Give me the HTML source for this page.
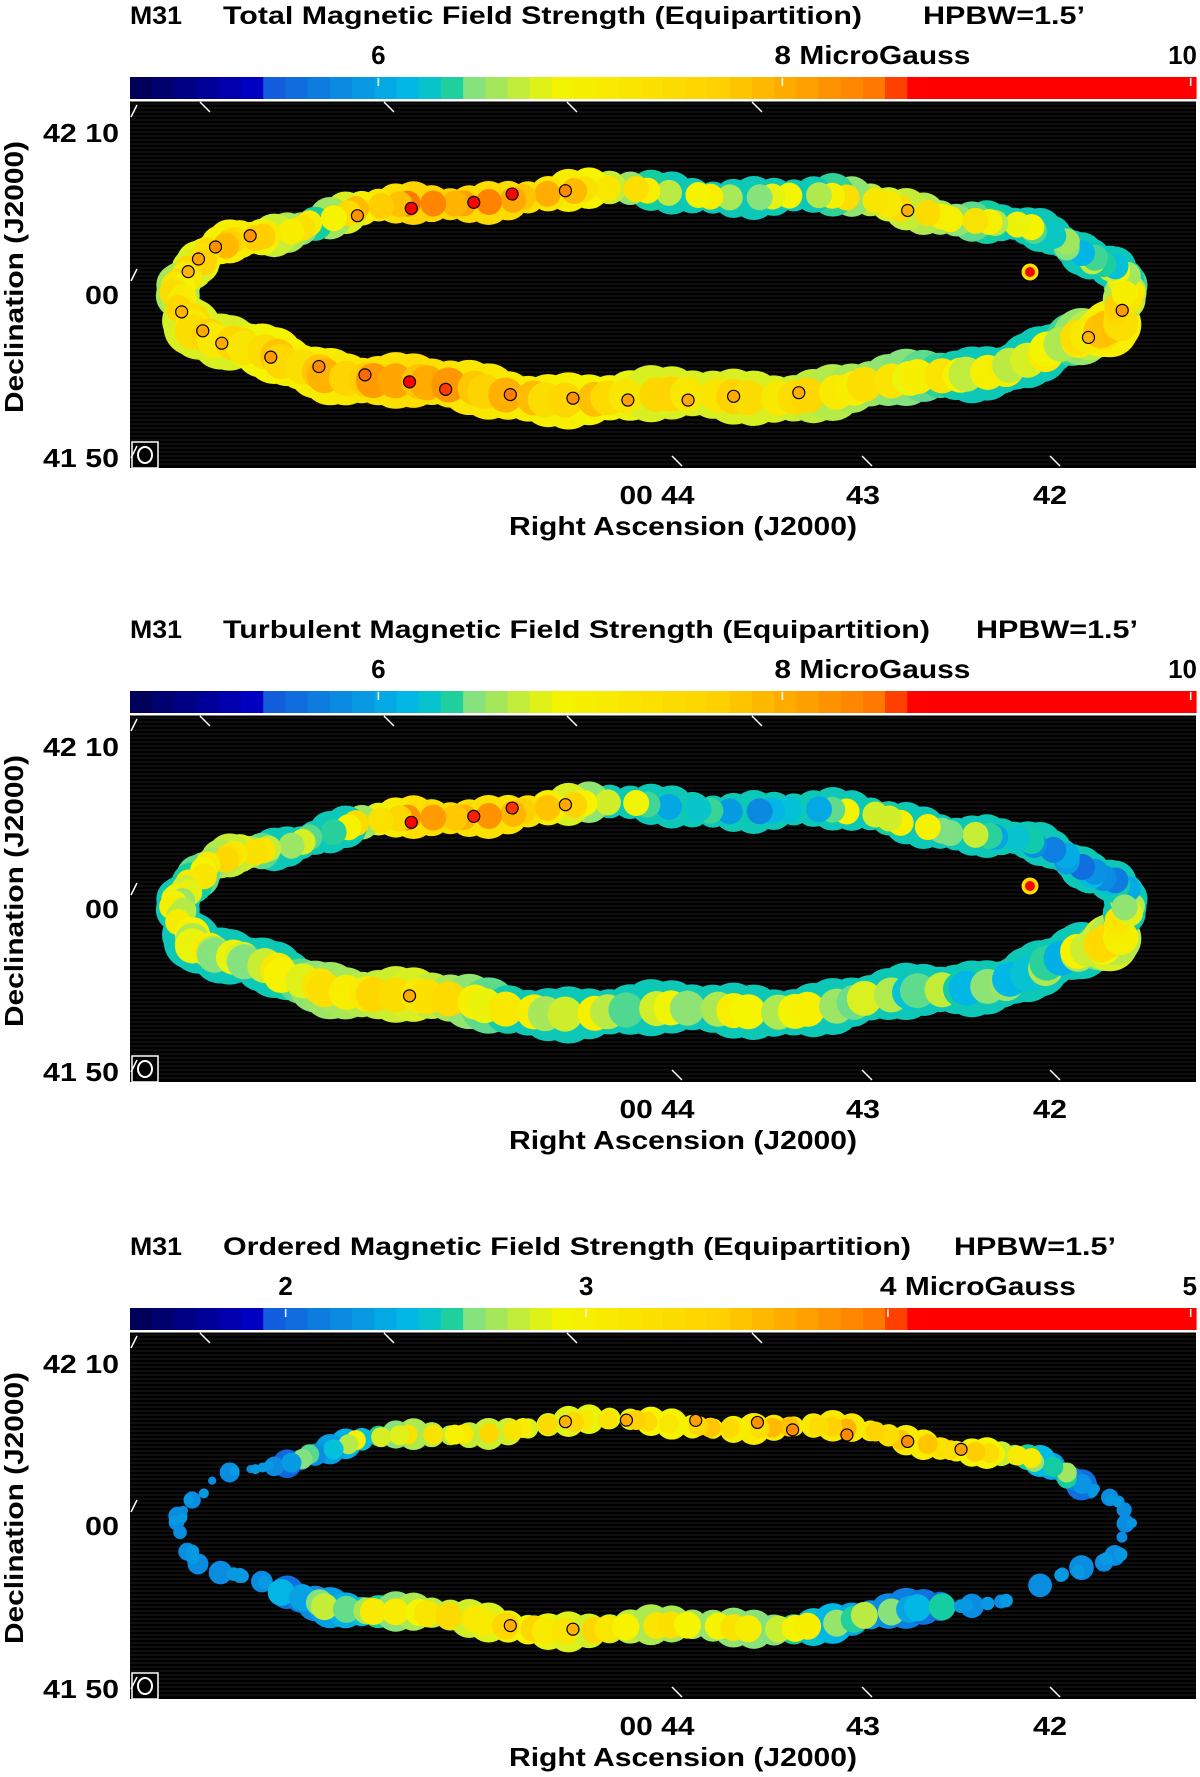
<!DOCTYPE html>
<html><head><meta charset="utf-8"><style>
body{margin:0;background:#fff;width:1200px;height:1777px;overflow:hidden;font-family:"Liberation Sans",sans-serif}
svg{display:block}
text{font-family:"Liberation Sans",sans-serif;font-weight:bold;fill:#000}
</style></head><body>
<svg id="fig" width="1200" height="1777" viewBox="0 0 1200 1777" xmlns="http://www.w3.org/2000/svg"></svg>
<script>
// data
const panelTitles = ["Total Magnetic Field Strength  (Equipartition)", "Turbulent Magnetic Field Strength  (Equipartition)", "Ordered Magnetic Field Strength  (Equipartition)"];
const cbTickLabels = [["6","8 MicroGauss","10"],["6","8 MicroGauss","10"],["2","3","4 MicroGauss","5"]];
const cbTickFrac = [[0.233,0.612,0.995],[0.233,0.612,0.995],[0.146,0.428,0.711,0.995]];
const ringAngles = [0,15,30,45,60,75,90,105,120,135,150,165,180,195,210,225,240,255,270,285,300,315,330,345];
const ringP1 = [0.45,0.32,0.3,0.42,0.5,0.35,0.42,0.62,0.66,0.42,0.56,0.5,0.45,0.5,0.5,0.55,0.62,0.56,0.5,0.5,0.45,0.4,0.4,0.56];
const ringP2 = [0.35,0.22,0.2,0.3,0.42,0.22,0.3,0.6,0.62,0.3,0.5,0.42,0.38,0.4,0.35,0.45,0.5,0.4,0.35,0.4,0.33,0.3,0.3,0.5];
const ringP3 = [0.2,0.18,0.3,0.5,0.55,0.55,0.5,0.48,0.45,0.3,0.15,0.14,0.12,0.12,0.18,0.3,0.45,0.5,0.45,0.42,0.3,0.2,0.18,0.18];
const ringData=[ringP1,ringP2,ringP3];
const panelTop=[0,614,1231];
const titleEnd=[862,930,911];
const hpbwX=[923,976,954];
const NS="http://www.w3.org/2000/svg";
const svg=document.getElementById('fig');
function el(tag,attrs,parent){const e=document.createElementNS(NS,tag);for(const k in attrs)e.setAttribute(k,attrs[k]);(parent||svg).appendChild(e);return e;}
const stops=[[0,[0,0,80]],[0.12,[0,0,200]],[0.13,[20,90,220]],[0.27,[0,190,230]],[0.3,[20,205,160]],[0.32,[130,225,130]],[0.4,[245,245,0]],[0.55,[255,210,0]],[0.7,[255,120,0]],[0.74,[255,0,0]],[1,[255,0,0]]];
function cmap(f){f=Math.max(0,Math.min(1,f));for(let i=1;i<stops.length;i++){if(f<=stops[i][0]){const a=stops[i-1],b=stops[i];const t=(f-a[0])/(b[0]-a[0]||1);return 'rgb('+a[1].map((v,j)=>Math.round(v+(b[1][j]-v)*t)).join(',')+')';}}return 'rgb(255,0,0)';}
function interp(arr,deg){deg=((deg%360)+360)%360;const i=Math.floor(deg/15),t=(deg-i*15)/15;return arr[i]*(1-t)+arr[(i+1)%24]*t;}
const X0=130,X1=1196;
panelTop.forEach((T,p)=>{
  const g=el('g',{});
  
  
  let t=el('text',{x:130,y:T+24,'font-size':25,textLength:52,lengthAdjust:'spacingAndGlyphs'},g);t.textContent='M31';
  
  t=el('text',{x:223,y:T+24,'font-size':25,textLength:titleEnd[p]-223,lengthAdjust:'spacingAndGlyphs'},g);t.textContent=panelTitles[p];
  
  t=el('text',{x:hpbwX[p],y:T+24,'font-size':25,textLength:162,lengthAdjust:'spacingAndGlyphs'},g);t.textContent='HPBW=1.5\u2019';
  
  // colorbar
  const cb=el('g',{},g);
  
  const N=48;for(let i=0;i<N;i++){el('rect',{x:X0+(X1-X0)*i/N,y:T+77,width:(X1-X0)/N+0.6,height:22,fill:cmap((i+0.5)/N)},cb);}
  cbTickLabels[p].forEach((lab,i)=>{const x=X0+(X1-X0)*cbTickFrac[p][i];
    el('line',{x1:x,x2:x,y1:T+78,y2:T+86,stroke:'#fff','stroke-width':1.5},cb);
    const tx=el('text',{x:lab.length>2?x-8:x,y:T+64,'font-size':26,'text-anchor':lab.length>2?'start':'middle'},cb);
    if(lab.length>8){tx.setAttribute('textLength',196);tx.setAttribute('lengthAdjust','spacingAndGlyphs');}
    if(i==cbTickLabels[p].length-1)tx.setAttribute('text-anchor','end'),tx.setAttribute('x',1197);
    tx.textContent=lab;});
  // plot
  const PT=T+101,PH=367;
  const plot=el('g',{},g);
  
  el('rect',{x:X0,y:PT,width:X1-X0,height:PH,fill:'#000'},plot);
  for(let y=PT+3;y<PT+PH;y+=4)el('line',{x1:X0,x2:X1,y1:y,y2:y,stroke:'#1c1c1c','stroke-width':1},plot);
  el('rect',{x:X0,y:PT-1,width:X1-X0,height:1.5,fill:'#fff'},plot);
  const cx=651,cy=T+292,rx=475,ry=100,arr=ringData[p];
  for(let pass=0;pass<3;pass++){
    for(let a=0;a<360;a+=2.5){
      const r=a*Math.PI/180,v=interp(arr,a);
      const bottom=(a>190&&a<350);
      const x=cx+rx*Math.cos(r),y=cy-ry*Math.sin(r)+(bottom?6:0);
      const thick=bottom?1.35:1;
      const jit=Math.sin(a*2.3)*5,jit2=Math.cos(a*1.7)*6;
      if(pass==0){
        if(p==2 && v<0.25 && Math.sin(a*1.1)>-0.2) continue;
        el('circle',{cx:x,cy:y+jit,r:(p==2?(v<0.25?7:13):19)*thick+Math.sin(a*3.1)*3,fill:cmap(p==2?(v<0.25?0.2:v-0.1):Math.max(0.29,v-0.12))},plot);
      } else if(pass==1){
        if(p==2 && v<0.2 && Math.sin(a*2.1)<0.3) continue;
        el('circle',{cx:x+jit2,cy:y+jit*0.8,r:(p==2?(v<0.25?5:10):13)*thick,fill:cmap(p==2&&v<0.25?0.22:v+Math.sin(a*0.7)*0.05)},plot);
      } else {
        if(Math.sin(a*0.9)>0.55 && v>0.48) el('circle',{cx:x+jit,cy:y-jit2*0.5,r:6,fill:cmap(v+0.12),stroke:'#000','stroke-width':1.2},plot);
      }
    }
  }
  // compact source
  if(p<2){el('circle',{cx:1030,cy:T+272,r:9,fill:cmap(0.5),stroke:'#000'},plot);el('circle',{cx:1030,cy:T+272,r:5,fill:'#ff0000'},plot);}
  // beam
  el('rect',{x:132,y:PT+341,width:26,height:26,fill:'#000',stroke:'#fff','stroke-width':1.5},plot);
  el('ellipse',{cx:145,cy:PT+354,rx:7,ry:8,fill:'none',stroke:'#fff','stroke-width':2},plot);
  [200,384,567,752].forEach(x=>el('line',{x1:x,y1:PT+1,x2:x+10,y2:PT+11,stroke:'#fff','stroke-width':1.5},plot));
  [672,862,1050].forEach(x=>el('line',{x1:x,y1:PT+PH-12,x2:x+10,y2:PT+PH-2,stroke:'#fff','stroke-width':1.5},plot));
  [[PT+16],[PT+180],[PT+PH-10]].forEach(([y])=>el('line',{x1:131,y1:y,x2:137,y2:y-12,stroke:'#fff','stroke-width':1.5},plot));
  // axes labels
  [['42 10',T+142,76],['00',T+304,34],['41 50',T+467,76]].forEach(([s,y,w])=>{const e=el('text',{x:119,y:y,'font-size':26,'text-anchor':'end',textLength:w,lengthAdjust:'spacingAndGlyphs'},g);e.textContent=s;});
  [['00 44',657,75],['43',863,34],['42',1050,34]].forEach(([s,x,w])=>{const e=el('text',{x:x,y:T+504,'font-size':26,'text-anchor':'middle',textLength:w,lengthAdjust:'spacingAndGlyphs'},g);e.textContent=s;});
  const xl=el('text',{x:683,y:T+535,'font-size':26,'text-anchor':'middle',textLength:348,lengthAdjust:'spacingAndGlyphs'},g);xl.textContent='Right Ascension (J2000)';
  
  const yl=el('text',{x:0,y:0,'font-size':26,'text-anchor':'middle',textLength:272,lengthAdjust:'spacingAndGlyphs',transform:'translate(23,'+(T+277)+') rotate(-90)'},g);yl.textContent='Declination (J2000)';
  
});
</script>
</body></html>
